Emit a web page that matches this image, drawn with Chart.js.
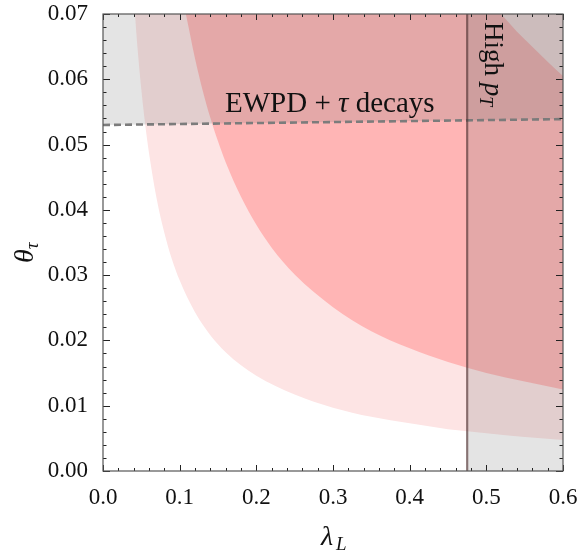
<!DOCTYPE html>
<html>
<head>
<meta charset="utf-8">
<script src="https://cdn.jsdelivr.net/npm/chart.js@4"></script>
<style>
  body { margin: 0; background: #fff; }
  #wrap { width: 581px; height: 556px; }
</style>
</head>
<body>
<div id="wrap"><canvas id="chart" width="581" height="556"></canvas></div>
<script>
// outer (light) band, lower edge
const lambdaOuter = [0.0417, 0.045, 0.05, 0.055, 0.06, 0.07, 0.08, 0.09, 0.10, 0.12, 0.14, 0.16, 0.18, 0.20, 0.25, 0.30, 0.35, 0.40, 0.45, 0.50, 0.55, 0.60];
const thetaOuter  = [0.0700, 0.0648, 0.0584, 0.0531, 0.0487, 0.0417, 0.0365, 0.0324, 0.0292, 0.0243, 0.0208, 0.0182, 0.0162, 0.0146, 0.0117, 0.0097, 0.0083, 0.0073, 0.0064, 0.0058, 0.0052, 0.00475];

// inner (dark) band, lower edge
const lambdaInner = [0.108, 0.11, 0.12, 0.13, 0.14, 0.15, 0.16, 0.18, 0.20, 0.22, 0.25, 0.30, 0.35, 0.40, 0.45, 0.50, 0.55, 0.60];
const thetaInner  = [0.0700, 0.0689, 0.0632, 0.0583, 0.0541, 0.0505, 0.0473, 0.0420, 0.0377, 0.0342, 0.0301, 0.0251, 0.0214, 0.0188, 0.0167, 0.0150, 0.0137, 0.0125];

// inner band, upper edge (top right corner)
const lambdaUpper = [0.519, 0.54, 0.56, 0.58, 0.60];
const thetaUpper  = [0.0700, 0.0673, 0.0650, 0.0627, 0.0605];

// EWPD + tau decays bound (dashed)
const lambdaEwpd = [0.0, 0.6];
const thetaEwpd  = [0.0530, 0.0539];

// high pT bound
const lambdaHighPt = 0.475;

const xTicks = [0, 0.1, 0.2, 0.3, 0.4, 0.5, 0.6];
const yTicks = [0, 0.01, 0.02, 0.03, 0.04, 0.05, 0.06, 0.07];

const toPoints = (xs, ys) => xs.map((x, i) => ({ x: x, y: ys[i] }));

const serif = '"Liberation Serif", "DejaVu Serif", serif';

const framePlugin = {
    id: 'frame',
    afterDraw(chart) {
        const ctx = chart.ctx;
        const a = chart.chartArea;
        const xs = chart.scales.x, ys = chart.scales.y;
        ctx.save();
        // ticks (inward, all four sides)
        ctx.strokeStyle = '#222';
        ctx.lineWidth = 1;
        ctx.beginPath();
        for (let i = 0; i <= 30; i++) {
            const px = Math.round(xs.getPixelForValue(i * 0.02)) + 0.5;
            const len = i % 5 === 0 ? 6 : 3;
            ctx.moveTo(px, a.bottom); ctx.lineTo(px, a.bottom - len);
            ctx.moveTo(px, a.top); ctx.lineTo(px, a.top + len);
        }
        for (let i = 0; i <= 35; i++) {
            const py = Math.round(ys.getPixelForValue(i * 0.002)) + 0.5;
            const len = i % 5 === 0 ? 7 : 3.5;
            ctx.moveTo(a.left, py); ctx.lineTo(a.left + len, py);
            ctx.moveTo(a.right, py); ctx.lineTo(a.right - len, py);
        }
        ctx.stroke();
        // frame
        ctx.strokeStyle = '#555';
        ctx.lineWidth = 1.2;
        ctx.strokeRect(a.left, a.top, a.right - a.left, a.bottom - a.top);

        ctx.fillStyle = '#111';
        // annotation: EWPD + tau decays
        const parts = [
            ['EWPD + ', '29px ' + serif],
            ['\u03c4', 'italic 29px ' + serif],
            [' decays', '29px ' + serif]
        ];
        let tx = 225;
        ctx.textBaseline = 'alphabetic';
        ctx.textAlign = 'left';
        parts.forEach(p => {
            ctx.font = p[1];
            ctx.fillText(p[0], tx, 112);
            tx += ctx.measureText(p[0]).width;
        });

        // annotation: High pT (rotated)
        ctx.save();
        ctx.translate(485, 22);
        ctx.rotate(Math.PI / 2);
        ctx.font = '27px ' + serif;
        ctx.fillText('High ', 0, 0);
        let w = ctx.measureText('High ').width;
        ctx.font = 'italic 27px ' + serif;
        ctx.fillText('p', w, 0);
        w += ctx.measureText('p').width;
        ctx.font = 'italic 18px ' + serif;
        ctx.fillText('T', w, 5);
        ctx.restore();

        // x axis title
        ctx.font = 'italic 28px ' + serif;
        ctx.fillText('\u03bb', 321, 545);
        ctx.font = 'italic 19px ' + serif;
        ctx.fillText('L', 336, 550);

        // y axis title
        ctx.save();
        ctx.translate(33, 263);
        ctx.rotate(-Math.PI / 2);
        ctx.font = 'italic 28px ' + serif;
        ctx.fillText('\u03b8', 0, 0);
        const tw = ctx.measureText('\u03b8').width;
        ctx.font = 'italic 19px ' + serif;
        ctx.fillText('\u03c4', tw, 5);
        ctx.restore();

        ctx.restore();
    }
};

const ctx = document.getElementById('chart').getContext('2d');
const chart = new Chart(ctx, {
    type: 'line',
    data: {
        datasets: [{
            // light band
            data: toPoints(lambdaOuter, thetaOuter),
            fill: 'end',
            backgroundColor: '#fde4e4',
            borderColor: 'rgba(0,0,0,0)',
            borderWidth: 0,
            cubicInterpolationMode: 'monotone',
            order: 10
        }, {
            // dark band
            data: toPoints(lambdaInner, thetaInner),
            fill: 'end',
            backgroundColor: '#ffb5b5',
            borderColor: 'rgba(0,0,0,0)',
            borderWidth: 0,
            cubicInterpolationMode: 'monotone',
            order: 9
        }, {
            // back to light band above the dark one
            data: toPoints(lambdaUpper, thetaUpper),
            fill: 'end',
            backgroundColor: '#fde4e4',
            borderColor: 'rgba(0,0,0,0)',
            borderWidth: 0,
            cubicInterpolationMode: 'monotone',
            order: 8
        }, {
            // excluded by EWPD
            data: toPoints(lambdaEwpd, thetaEwpd),
            fill: 'end',
            backgroundColor: 'rgba(120,120,120,0.2)',
            borderColor: '#7c7c7c',
            borderWidth: 2.6,
            borderDash: [7, 4],
            order: 7
        }, {
            // excluded by high pT
            data: [{ x: lambdaHighPt, y: yTicks[yTicks.length - 1] }, { x: xTicks[xTicks.length - 1], y: yTicks[yTicks.length - 1] }],
            fill: 'start',
            backgroundColor: 'rgba(120,120,120,0.2)',
            borderColor: 'rgba(0,0,0,0)',
            borderWidth: 0,
            order: 6
        }, {
            data: [{ x: lambdaHighPt, y: yTicks[0] }, { x: lambdaHighPt, y: yTicks[yTicks.length - 1] }],
            fill: false,
            borderColor: 'rgba(80,50,50,0.65)',
            borderWidth: 2.2,
            order: 5
        }]
    },
    options: {
        responsive: false,
        animation: false,
        layout: { padding: { left: 0, right: 18, top: 14, bottom: 0 } },
        elements: { point: { radius: 0 } },
        plugins: { legend: { display: false }, tooltip: { enabled: false } },
        scales: {
            x: {
                type: 'linear',
                min: 0, max: 0.6,
                grid: { display: false, drawTicks: false },
                border: { display: false },
                afterFit: s => { s.height = 85; s.paddingLeft = 0; s.paddingRight = 0; },
                afterBuildTicks: s => { s.ticks = xTicks.map(v => ({ value: v })); },
                ticks: {
                    padding: 13,
                    color: '#111',
                    font: { family: serif, size: 23 },
                    callback: v => v.toFixed(1)
                }
            },
            y: {
                type: 'linear',
                min: 0, max: 0.07,
                grid: { display: false, drawTicks: false },
                border: { display: false },
                afterFit: s => { s.width = 103; s.paddingTop = 0; s.paddingBottom = 0; },
                afterBuildTicks: s => { s.ticks = yTicks.map(v => ({ value: v })); },
                ticks: {
                    padding: 15,
                    color: '#111',
                    font: { family: serif, size: 23 },
                    callback: v => v.toFixed(2)
                }
            }
        }
    },
    plugins: [framePlugin]
});
</script>
</body>
</html>
